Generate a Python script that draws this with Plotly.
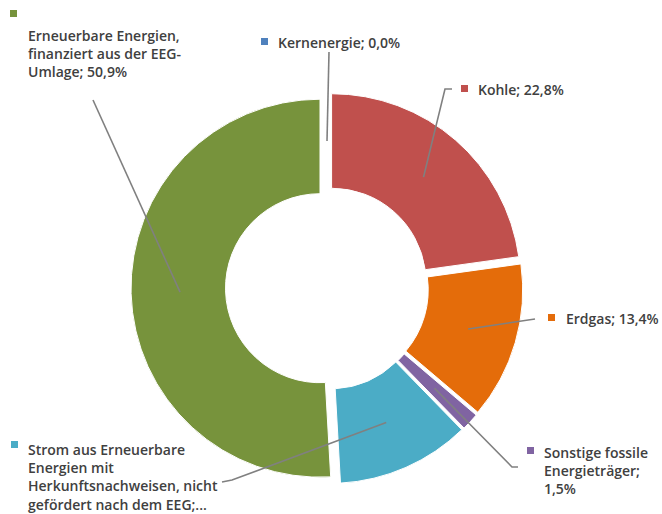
import math
import plotly.graph_objects as go

# ---------------- data ----------------
categories = [
    "Kernenergie",
    "Kohle",
    "Erdgas",
    "Sonstige fossile Energieträger",
    "Strom aus Erneuerbare Energien mit Herkunftsnachweisen, nicht gefördert nach dem EEG",
    "Erneuerbare Energien, finanziert aus der EEG-Umlage",
]
shares = [0.0, 22.8, 13.4, 1.5, 11.4, 50.9]
label_texts = [
    "Kernenergie; 0,0%",
    "Kohle; 22,8%",
    "Erdgas; 13,4%",
    "Sonstige fossile<br>Energieträger;<br>1,5%",
    "Strom aus Erneuerbare<br>Energien mit<br>Herkunftsnachweisen, nicht<br>gefördert nach dem EEG;...",
    "Erneuerbare Energien,<br>finanziert aus der EEG-<br>Umlage; 50,9%",
]
colors = ["#4F81BD", "#C0504D", "#E46C0A", "#8064A2", "#4BACC6", "#77933C"]

# ---------------- layout geometry (pixels) ----------------
W, H = 662, 514
CX, CY, R = 327, 288, 189
PULL = 0.037
HOLE = 0.50
half = R * (1 + PULL)

# label placement: (square x, square y, text x, text middle y) in pixels
label_pos = [
    (261, 38, 276, 42),
    (461, 85, 476, 89),
    (548, 314, 564, 318),
    (527, 447, 542, 470),
    (11, 441, 26, 477),
    (10, 10, 26, 53.5),
]
# outer end of leader lines (with optional elbow point)
leader_outer = [
    [(CX + 2, 52)],
    [(452, 89), (445, 89)],
    [(535, 319)],
    [(518, 467), (512, 467)],
    [(222, 482), (232, 480)],
    [(93, 100)],
]


def px(x):
    return x / W


def py(y):
    return 1 - y / H


fig = go.Figure(
    go.Pie(
        labels=categories,
        values=shares,
        sort=False,
        direction="clockwise",
        rotation=0,
        hole=HOLE,
        pull=[PULL] * len(shares),
        marker=dict(colors=colors, line=dict(color="white", width=1)),
        textinfo="none",
        hoverinfo="label+percent",
        showlegend=False,
        domain=dict(
            x=[px(CX - half), px(CX + half)],
            y=[py(CY + half), py(CY - half)],
        ),
    )
)

total = sum(shares)
cum = 0.0
shapes = []
annotations = []
rr = 140
for i, v in enumerate(shares):
    theta = 2 * math.pi * (cum + v / 2) / total
    cum += v
    dist = rr + PULL * R
    ix = CX + dist * math.sin(theta)
    iy = CY - dist * math.cos(theta)
    pts = leader_outer[i] + [(ix, iy)]
    path = "M " + " L ".join(f"{px(x)},{py(y)}" for x, y in pts)
    shapes.append(dict(type="path", path=path, xref="paper", yref="paper",
                       line=dict(color="#808080", width=1.6), layer="above"))
    sx, sy, tx, ty = label_pos[i]
    shapes.append(dict(type="rect", xref="paper", yref="paper",
                       x0=px(sx), x1=px(sx + 7), y0=py(sy), y1=py(sy + 7),
                       fillcolor=colors[i], line=dict(width=0), layer="above"))
    annotations.append(dict(text=label_texts[i], x=px(tx), y=py(ty), xref="paper", yref="paper",
                            xanchor="left", yanchor="middle", align="left", showarrow=False,
                            font=dict(family="Open Sans", size=14, color="#404040", weight=600)))

fig.update_layout(
    width=W, height=H,
    margin=dict(l=0, r=0, t=0, b=0),
    paper_bgcolor="white",
    plot_bgcolor="white",
    shapes=shapes,
    annotations=annotations,
)

fig.write_html(
    "out.html",
    config={"displayModeBar": False},
    post_script="document.body.style.margin='0';document.body.style.overflow='hidden';",
)
